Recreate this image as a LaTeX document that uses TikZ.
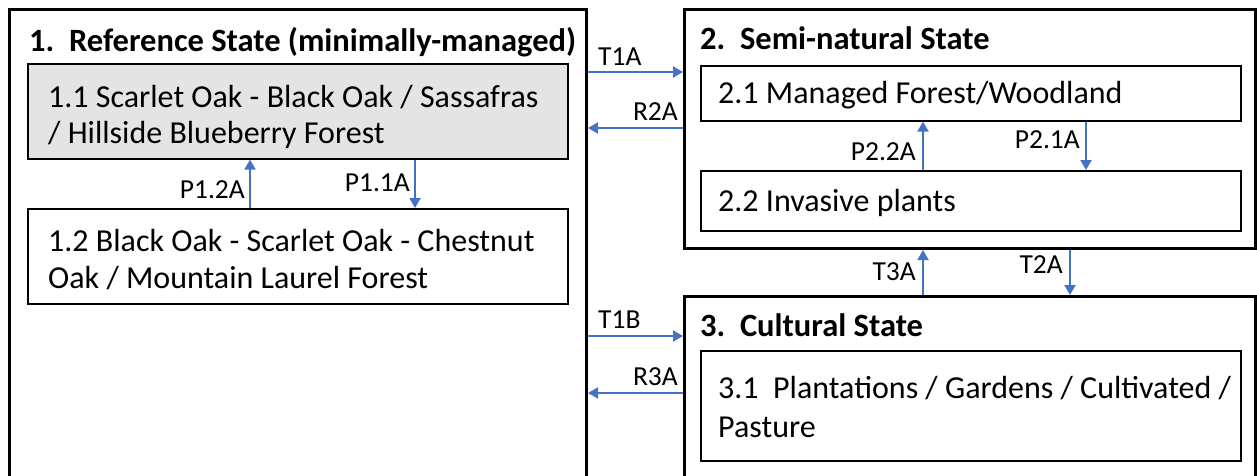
\documentclass[tikz,border=0pt]{standalone}
\usepackage{fontspec}
\setmainfont{Carlito}
\usetikzlibrary{arrows.meta}
\definecolor{arrblue}{HTML}{4472C4}
\definecolor{boxgray}{HTML}{E4E4E4}
\tikzset{
  outerbox/.style={draw=black,line width=3pt},
  innerbox/.style={draw=black,line width=1.6pt},
  txt/.style={anchor=west,inner sep=0pt,font=\fontsize{32}{38}\selectfont},
  ttl/.style={anchor=west,inner sep=0pt,font=\fontsize{32.5}{38}\selectfont\bfseries},
  lbl/.style={inner sep=0pt,font=\fontsize{27.5}{32}\selectfont},
  arr/.style={draw=arrblue,line width=2pt,-{Triangle[length=10pt,width=11pt]}},
}
\begin{document}
\begin{tikzpicture}[x=1pt,y=-1pt]
\useasboundingbox (0,0) rectangle (1257,476);
% outer boxes
\node[outerbox,minimum width=577pt,minimum height=470pt,anchor=north west,inner sep=0pt] (b1) at (8,8) {};
\node[outerbox,minimum width=571pt,minimum height=239pt,anchor=north west,inner sep=0pt] (b2) at (683,8) {};
\node[outerbox,minimum width=571pt,minimum height=185pt,anchor=north west,inner sep=0pt] (b3) at (683,295) {};
% inner boxes
\node[innerbox,fill=boxgray,minimum width=540pt,minimum height=95pt,anchor=north west,inner sep=0pt] (b11) at (27,63) {};
\node[innerbox,minimum width=540pt,minimum height=95pt,anchor=north west,inner sep=0pt] (b12) at (27,208) {};
\node[innerbox,minimum width=540pt,minimum height=55pt,anchor=north west,inner sep=0pt] (b21) at (700,65) {};
\node[innerbox,minimum width=540pt,minimum height=60pt,anchor=north west,inner sep=0pt] (b22) at (700,170) {};
\node[innerbox,minimum width=540pt,minimum height=110pt,anchor=north west,inner sep=0pt] (b31) at (700,350) {};
% titles
\node[ttl] (t1) at (29,42) {1.\ \ Reference State (minimally-managed)};
\node[ttl] (t2) at (700,38) {2.\ \ Semi-natural State};
\node[ttl] (t3) at (700,325) {3.\ \ Cultural State};
% texts
\node[txt] (x11a) at (48,97) {1.1 Scarlet Oak - Black Oak / Sassafras};
\node[txt] (x11b) at (48,135) {/ Hillside Blueberry Forest};
\node[txt] (x12a) at (48,241) {1.2 Black Oak - Scarlet Oak - Chestnut};
\node[txt] (x12b) at (48,278) {Oak / Mountain Laurel Forest};
\node[txt] (x21) at (718,95) {2.1 Managed Forest/Woodland};
\node[txt] (x22) at (718,203) {2.2 Invasive plants};
\node[txt] (x31a) at (718,388) {3.1\ \ Plantations / Gardens / Cultivated /};
\node[txt] (x31b) at (718,427) {Pasture};
% arrows between states
\draw[arr] (b1.east |- 0,72) -- (b2.west |- 0,72);
\draw[arr] (b2.west |- 0,128) -- (b1.east |- 0,128);
\draw[arr] (b1.east |- 0,336) -- (b3.west |- 0,336);
\draw[arr] (b3.west |- 0,393) -- (b1.east |- 0,393);
\draw[arr] (b3.north -| 923,0) -- (b2.south -| 923,0);
\draw[arr] (b2.south -| 1070,0) -- (b3.north -| 1070,0);
% phase arrows
\draw[arr] (b12.north -| 250,0) -- (b11.south -| 250,0);
\draw[arr] (b11.south -| 415,0) -- (b12.north -| 415,0);
\draw[arr] (b22.north -| 923,0) -- (b21.south -| 923,0);
\draw[arr] (b21.south -| 1086,0) -- (b22.north -| 1086,0);
% labels
\node[lbl,anchor=west] (lT1A) at (598,57) {T1A};
\node[lbl,anchor=east] (lR2A) at (678,112) {R2A};
\node[lbl,anchor=west] (lT1B) at (598,320) {T1B};
\node[lbl,anchor=east] (lR3A) at (678,377) {R3A};
\node[lbl,anchor=east] (lT3A) at (916,272) {T3A};
\node[lbl,anchor=east] (lT2A) at (1063,265) {T2A};
\node[lbl,anchor=east] (lP12) at (245,190) {P1.2A};
\node[lbl,anchor=east] (lP11) at (410,183) {P1.1A};
\node[lbl,anchor=east] (lP22) at (916,152) {P2.2A};
\node[lbl,anchor=east] (lP21) at (1080,140) {P2.1A};
\end{tikzpicture}
\end{document}
